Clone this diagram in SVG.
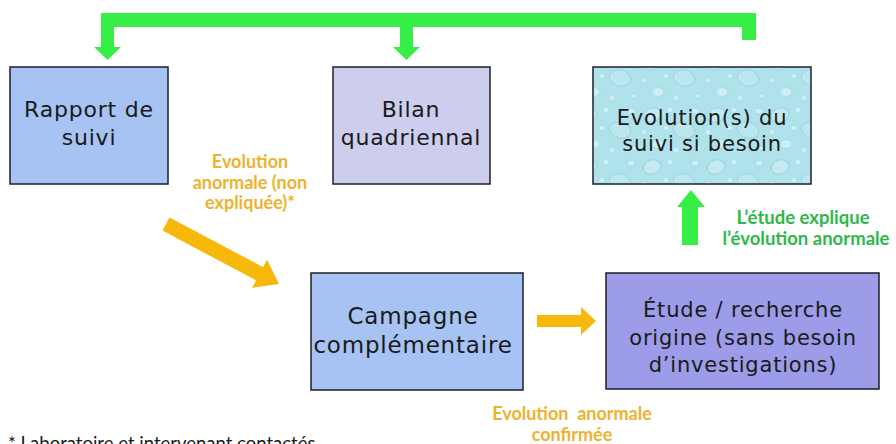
<svg xmlns="http://www.w3.org/2000/svg" width="896" height="444" viewBox="0 0 896 444">
<style>
.box{stroke:#1e1e2a;stroke-width:1.5}
.bt{font-family:"DejaVu Sans",sans-serif;font-size:21px;letter-spacing:0.8px;fill:#1a1a1a;text-anchor:middle}
.big{font-size:22px}
.bigger{font-size:23px}
.ot{font-family:Lato,"Liberation Sans",sans-serif;font-weight:bold;font-size:18px;fill:#EDB22E;text-anchor:middle}
.gt{font-family:Lato,"Liberation Sans",sans-serif;font-weight:bold;font-size:18.5px;fill:#2DB84A;text-anchor:middle}
.green{fill:#36EE46}
.orange{fill:#F6B80A}
</style>
<defs>
<pattern id="drops" width="64" height="52" patternUnits="userSpaceOnUse">
<rect width="64" height="52" fill="#B0E2EC"/>
<ellipse cx="12" cy="11" rx="9" ry="7" fill="#C4EBF3" stroke="#97D3E0" stroke-width="1" transform="rotate(-20 12 11)"/>
<ellipse cx="44" cy="26" rx="11" ry="8" fill="#BCE7F0" stroke="#9AD4E1" stroke-width="1" transform="rotate(15 44 26)"/>
<ellipse cx="18" cy="40" rx="6" ry="4.5" fill="#CCEEF5" stroke="#9CD6E2" stroke-width="0.8"/>
<ellipse cx="55" cy="7" rx="4" ry="3" fill="#CFF0F6" stroke="#A0D7E3" stroke-width="0.8"/>
<circle cx="30" cy="6" r="2" fill="#D8F3F8"/>
<circle cx="4" cy="28" r="2.5" fill="#D2F0F6" stroke="#A2D8E3" stroke-width="0.6"/>
<circle cx="36" cy="46" r="3" fill="#CDEEF5" stroke="#A0D7E3" stroke-width="0.6"/>
<circle cx="58" cy="44" r="1.6" fill="#DDF5FA"/>
<circle cx="26" cy="24" r="1.8" fill="#DDF5FA"/>
</pattern>
</defs>

<g id="connectors">
<path class="green" d="M101,13 H756 V40 H742 V27 H413 V47 H420 L406.5,60 L393,47 H400 V27 H114 V47 H121 L107.5,60 L94,47 H101 Z"/>
<path class="green" d="M682,245 V207 H677 L691,190 L705,207 H698 V245 Z"/>
<path class="orange" d="M0,-7.5 H106 V-16 L128,0 L106,16 V7.5 H0 Z" transform="translate(166,224) rotate(28)"/>
<path class="orange" d="M537,315 H581 V307 L596,321 L581,335 V327 H537 Z"/>
</g>

<g id="rapport">
<rect class="box" x="10" y="67" width="158" height="117" fill="#A6C3F3"/>
<text class="bt big" x="89" y="117">Rapport de</text>
<text class="bt big" x="89" y="145">suivi</text>
</g>

<g id="bilan">
<rect class="box" x="333" y="67" width="157" height="117" fill="#CDCDEE"/>
<text class="bt big" x="411" y="117">Bilan</text>
<text class="bt big" x="411" y="145">quadriennal</text>
</g>

<g id="evolution">
<rect class="box" x="593" y="67" width="218" height="117" fill="url(#drops)"/>
<text class="bt" x="702" y="125">Evolution(s) du</text>
<text class="bt" x="702" y="151">suivi si besoin</text>
</g>

<g id="campagne">
<rect class="box" x="311" y="273" width="212" height="117" fill="#A6C3F3"/>
<text class="bt bigger" x="413" y="324">Campagne</text>
<text class="bt bigger" x="413" y="353">complémentaire</text>
</g>

<g id="etude">
<rect class="box" x="606" y="273" width="273" height="116" fill="#9C9CE8"/>
<text class="bt" x="743" y="317">Étude / recherche</text>
<text class="bt" x="743" y="345">origine (sans besoin</text>
<text class="bt" x="743" y="372">d’investigations)</text>
</g>

<g id="labels">
<text class="ot" x="250" y="168">Evolution</text>
<text class="ot" x="250" y="189">anormale (non</text>
<text class="ot" x="250" y="209">expliquée)*</text>
<text class="gt" x="803" y="224">L’étude explique</text>
<text class="gt" x="806" y="245">l’évolution anormale</text>
<text class="ot" x="572" y="420" xml:space="preserve">Evolution  anormale</text>
<text class="ot" x="572" y="441">confirmée</text>
<text x="8" y="450" font-family="Lato,'Liberation Sans',sans-serif" font-size="18.5" fill="#1a1a1a">* Laboratoire et intervenant contactés</text>
</g>
</svg>
